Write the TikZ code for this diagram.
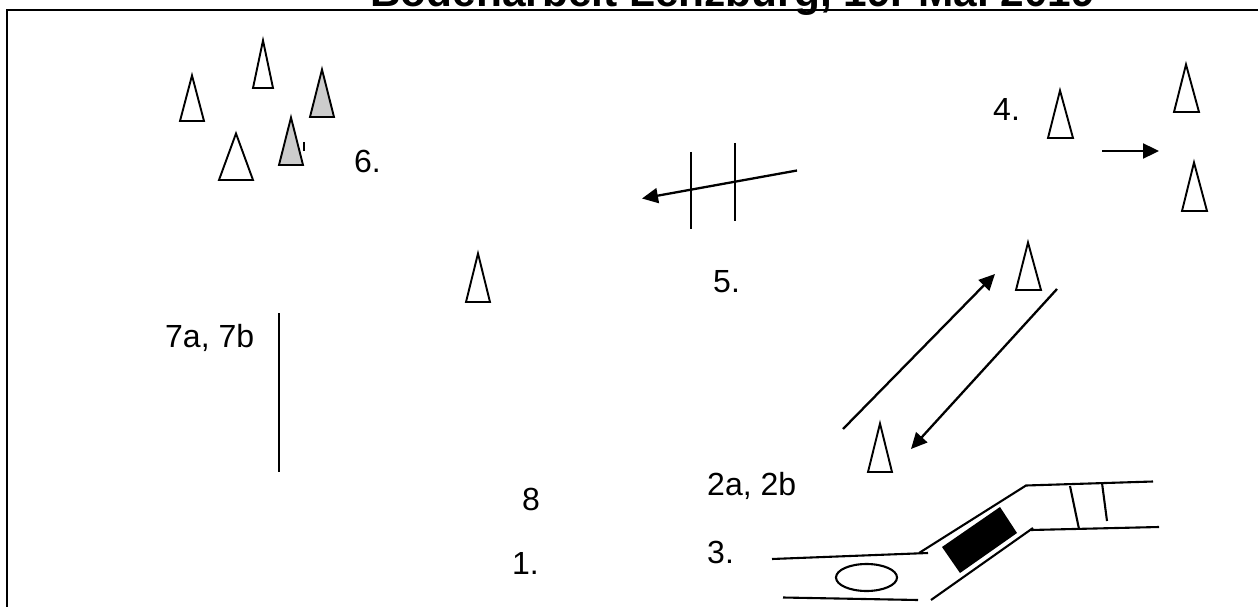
\documentclass[tikz,border=0pt]{standalone}
\usepackage{fontspec}
\setmainfont{Liberation Sans}
\usetikzlibrary{arrows.meta}
\tikzset{
  x=1pt,y=-1pt,
  ln/.style={line width=2.1pt,black},
  cone/.style={line width=1.9pt,black,fill=white,line join=miter},
  gcone/.style={line width=1.9pt,black,fill=black!20,line join=miter},
  arr/.style={line width=2.3pt,black,-{Triangle[length=16pt,width=15pt]}},
  lbl/.style={font=\fontsize{32}{36}\selectfont,inner sep=0pt,anchor=base west},
  ttl/.style={font=\fontsize{42.4}{46}\selectfont\bfseries,inner sep=0pt,anchor=base west}
}
\begin{document}
\begin{tikzpicture}
\useasboundingbox (0,0) rectangle (1258,607);
\clip (0,0) rectangle (1258,607);
\node[ttl] (title) at (370,7) {Bodenarbeit Lenzburg, 19. Mai 2019};
\draw[line width=2.2pt] (7,607) -- (7,10) -- (1258,10);
% cones
\draw[cone] (192,75.5) -- (180,121) -- (204,121) -- cycle;
\draw[cone] (263,40.5) -- (253,88) -- (273,88) -- cycle;
\draw[gcone] (322,69.5) -- (310,117) -- (334,117) -- cycle;
\draw[gcone] (291,117.5) -- (279,165) -- (303,165) -- cycle;
\draw[cone] (236,133.5) -- (219,180) -- (253,180) -- cycle;
\draw[line width=1.2pt] (304,142) -- (304,151);
\draw[cone] (1060,90.5) -- (1048,138) -- (1073,138) -- cycle;
\draw[cone] (1186,64.5) -- (1174,112) -- (1199,112) -- cycle;
\draw[cone] (1194,162.5) -- (1182,211) -- (1207,211) -- cycle;
\draw[cone] (1028,242.5) -- (1016,290) -- (1041,290) -- cycle;
\draw[cone] (880,423.5) -- (868,472) -- (892,472) -- cycle;
\draw[cone] (478,253.5) -- (466,302) -- (490,302) -- cycle;
% hurdle arrow
\coordinate (h1) at (797,170.5);
\coordinate (h2) at (642,198.5);
\draw[arr] (h1) -- (h2);
\draw[ln] (691,152) -- (691,229);
\draw[ln] (735,143) -- (735,221);
% arrow 4
\coordinate (a1) at (1102,151);
\coordinate (a2) at (1159,151);
\draw[arr] (a1) -- (a2);
% long arrows
\coordinate (b1) at (843,429);
\coordinate (b2) at (995,274);
\draw[arr] (b1) -- (b2);
\coordinate (c1) at (1057,289);
\coordinate (c2) at (911,449);
\draw[arr] (c1) -- (c2);
% 7a line
\draw[ln] (279,313) -- (279,472);
% gangway
\draw[ln] (772,559) -- (928,553);
\draw[ln] (919,553) -- (1026,485.5) -- (1153,481.5);
\draw[ln] (783,597.5) -- (918,600);
\draw[ln] (931,600) -- (1033,528) (1031,530) -- (1159,527);
\draw[ln] (1070,486) -- (1079,529);
\draw[ln] (1102,483) -- (1107,521);
\fill[black] (942,547) -- (1000,507) -- (1017,533) -- (960,573) -- cycle;
\draw[ln] (866.5,577.5) ellipse (30.5 and 13.5);
% labels
\node[lbl] (l6) at (354,172) {6.};
\node[lbl] (l4) at (993,121) {4.};
\node[lbl] (l5) at (713,292) {5.};
\node[lbl] (l7) at (165,347) {7a, 7b};
\node[lbl] (l2) at (707,495) {2a, 2b};
\node[lbl] (l8) at (522,510) {8};
\node[lbl] (l3) at (707,563) {3.};
\node[lbl] (l1) at (512,574) {1.};
\end{tikzpicture}
\end{document}
